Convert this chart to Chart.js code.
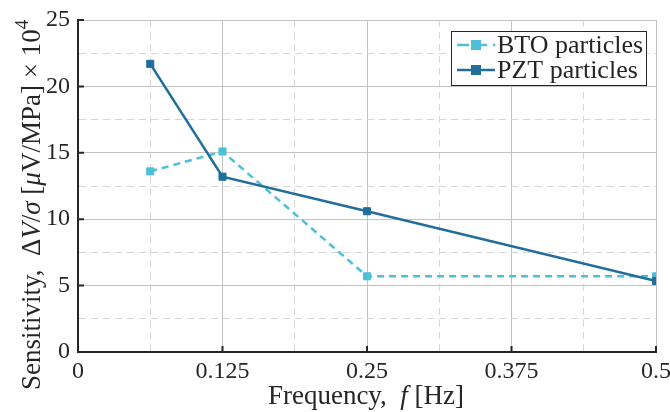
<!DOCTYPE html>
<html>
<head>
<meta charset="utf-8">
<script src="https://cdn.jsdelivr.net/npm/chart.js@4"></script>
<style>
  html, body { margin: 0; padding: 0; background: #fff; }
  #wrap { width: 670px; height: 412px; }
</style>
</head>
<body>
<div id="wrap"><canvas id="chart" width="670" height="412"></canvas></div>
<script>
// data
const freqs = [0.0625, 0.125, 0.25, 0.5];
const btoValues = [13.6, 15.1, 5.7, 5.7];
const pztValues = [21.7, 13.2, 10.6, 5.35];
const seriesNames = ["BTO particles", "PZT particles"];
const xTicks = [0, 0.125, 0.25, 0.375, 0.5];
const yTicks = [0, 5, 10, 15, 20, 25];

const BTO_COLOR = "#4dbfd9";
const PZT_COLOR = "#216d9c";
const AXIS_COLOR = "#262626";
const FONT = "'Liberation Serif', 'DejaVu Serif', serif";

function isMajor(v, list) {
  return list.some(t => Math.abs(t - v) < 1e-9);
}

// draws a run of text pieces, some italic, some raised
function drawPieces(ctx, pieces, size) {
  let w = 0;
  pieces.forEach(p => {
    ctx.font = (p.italic ? "italic " : "") + (p.sup ? size * 0.7 : size) + "px " + FONT;
    p.w = ctx.measureText(p.t).width;
    w += p.w;
  });
  let x = -w / 2;
  pieces.forEach(p => {
    ctx.font = (p.italic ? "italic " : "") + (p.sup ? size * 0.7 : size) + "px " + FONT;
    ctx.fillText(p.t, x, p.sup ? -size * 0.45 : 0);
    x += p.w;
  });
}

const extrasPlugin = {
  id: "extras",
  beforeDatasetsDraw(chart) {
    // inward tick marks on the left and bottom axes
    const { ctx, chartArea, scales } = chart;
    ctx.save();
    ctx.strokeStyle = AXIS_COLOR;
    ctx.lineWidth = 2;
    ctx.beginPath();
    xTicks.forEach(v => {
      if (v === 0) return;
      const px = scales.x.getPixelForValue(v);
      ctx.moveTo(px, chartArea.bottom);
      ctx.lineTo(px, chartArea.bottom - 6);
    });
    yTicks.forEach(v => {
      if (v === 0) return;
      const py = scales.y.getPixelForValue(v);
      ctx.moveTo(chartArea.left, py);
      ctx.lineTo(chartArea.left + 6, py);
    });
    ctx.stroke();
    ctx.restore();
  },
  afterDraw(chart) {
    const { ctx } = chart;
    ctx.save();
    ctx.fillStyle = AXIS_COLOR;
    ctx.textBaseline = "alphabetic";

    // x axis title
    ctx.save();
    ctx.translate(366, 404);
    drawPieces(ctx, [
      { t: "Frequency,  " },
      { t: "f", italic: true },
      { t: " [Hz]" }
    ], 27);
    ctx.restore();

    // y axis title
    ctx.save();
    ctx.translate(40, 205);
    ctx.rotate(-Math.PI / 2);
    drawPieces(ctx, [
      { t: "Sensitivity,  \u0394" },
      { t: "V", italic: true },
      { t: "/" },
      { t: "\u03c3", italic: true },
      { t: " [" },
      { t: "\u03bc", italic: true },
      { t: "V/MPa] \u00d7 10" },
      { t: "4", sup: true }
    ], 27);
    ctx.restore();

    // legend box
    const bx = 451, by = 31, bw = 195, bh = 54;
    ctx.fillStyle = "#fff";
    ctx.fillRect(bx, by, bw, bh);
    ctx.strokeStyle = AXIS_COLOR;
    ctx.lineWidth = 1;
    ctx.strokeRect(bx + 0.5, by + 0.5, bw, bh);
    const colors = [BTO_COLOR, PZT_COLOR];
    const dashes = [[12, 6], []];
    seriesNames.forEach((name, i) => {
      const cy = by + 14 + i * 25;
      ctx.strokeStyle = colors[i];
      ctx.lineWidth = 2.5;
      ctx.setLineDash(dashes[i]);
      ctx.beginPath();
      ctx.moveTo(bx + 6, cy);
      ctx.lineTo(bx + 44, cy);
      ctx.stroke();
      ctx.setLineDash([]);
      ctx.fillStyle = colors[i];
      ctx.fillRect(bx + 20, cy - 5, 10, 10);
      ctx.fillStyle = AXIS_COLOR;
      ctx.font = "26px " + FONT;
      ctx.textBaseline = "middle";
      ctx.fillText(name, bx + 46, cy + 1);
    });
    ctx.restore();
  }
};

new Chart(document.getElementById("chart"), {
  type: "line",
  data: {
    datasets: [
      {
        label: seriesNames[0],
        data: freqs.map((f, i) => ({ x: f, y: btoValues[i] })),
        borderColor: BTO_COLOR,
        backgroundColor: BTO_COLOR,
        borderWidth: 2.5,
        borderDash: [7, 5],
        pointStyle: "rect",
        pointRadius: 5,
        pointBorderWidth: 1,
        order: 2
      },
      {
        label: seriesNames[1],
        data: freqs.map((f, i) => ({ x: f, y: pztValues[i] })),
        borderColor: PZT_COLOR,
        backgroundColor: PZT_COLOR,
        borderWidth: 2.5,
        pointStyle: "rect",
        pointRadius: 5,
        pointBorderWidth: 1,
        order: 1
      }
    ]
  },
  options: {
    responsive: false,
    animation: false,
    layout: { padding: { top: 20, right: 14, left: 0, bottom: 0 } },
    plugins: {
      legend: { display: false },
      tooltip: { enabled: false }
    },
    scales: {
      x: {
        type: "linear",
        min: 0,
        max: 0.5,
        afterFit: s => { s.height = 60; s.paddingRight = 0; s.paddingLeft = 0; },
        afterBuildTicks: s => { s.ticks = gridTicks(0, 0.5, 0.0625); },
        ticks: {
          autoSkip: false,
          maxRotation: 0,
          padding: 5,
          color: AXIS_COLOR,
          font: { family: FONT, size: 24 },
          callback: v => isMajor(v, xTicks) ? String(+v.toFixed(4)) : ""
        },
        grid: {
          drawTicks: false,
          lineWidth: 1,
          color: ctx => (ctx.tick && !isMajor(ctx.tick.value, xTicks)) ? "#d6d6d6" : "#c2c2c2"
        },
        border: {
          color: AXIS_COLOR,
          width: 2,
          dash: ctx => (ctx.tick && !isMajor(ctx.tick.value, xTicks)) ? [7, 5] : []
        }
      },
      y: {
        min: 0,
        max: 25,
        afterFit: s => { s.width = 78; s.paddingTop = 0; },
        afterBuildTicks: s => { s.ticks = gridTicks(0, 25, 2.5); },
        ticks: {
          autoSkip: false,
          padding: 8,
          color: AXIS_COLOR,
          font: { family: FONT, size: 24 },
          callback: v => isMajor(v, yTicks) ? String(v) : ""
        },
        grid: {
          drawTicks: false,
          lineWidth: 1,
          color: ctx => (ctx.tick && !isMajor(ctx.tick.value, yTicks)) ? "#d6d6d6" : "#c2c2c2"
        },
        border: {
          color: AXIS_COLOR,
          width: 2,
          dash: ctx => (ctx.tick && !isMajor(ctx.tick.value, yTicks)) ? [7, 5] : []
        }
      }
    }
  },
  plugins: [extrasPlugin]
});

// tick positions for major + minor grid lines
function gridTicks(min, max, step) {
  const out = [];
  const n = Math.round((max - min) / step);
  for (let i = 0; i <= n; i++) out.push({ value: +(min + i * step).toFixed(6) });
  return out;
}
</script>
</body>
</html>
